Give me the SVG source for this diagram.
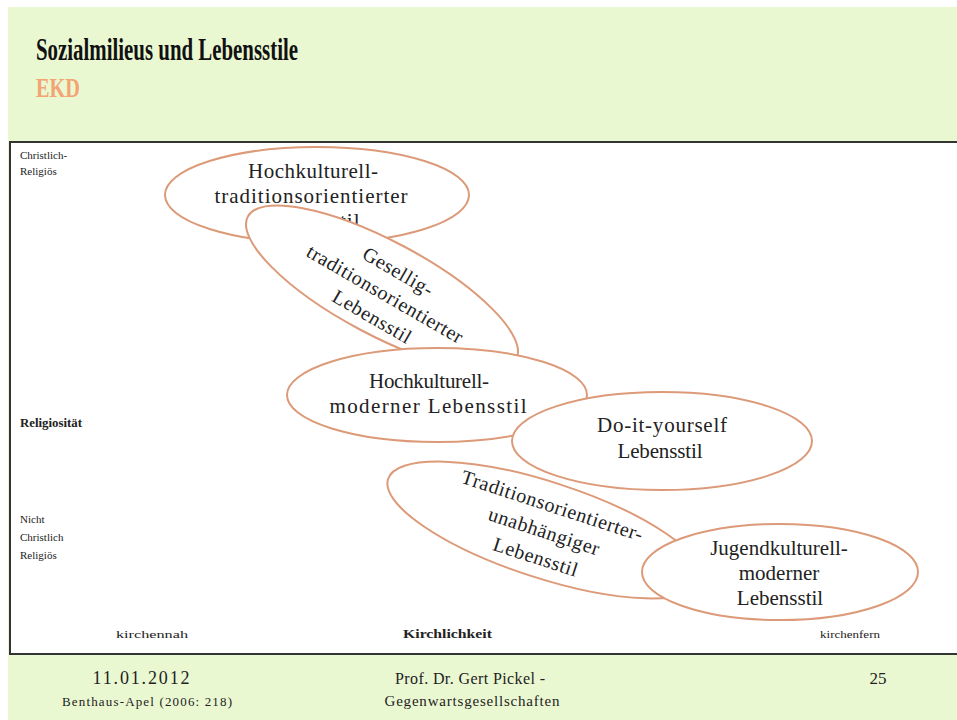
<svg xmlns="http://www.w3.org/2000/svg" width="957" height="720" viewBox="0 0 957 720">
<style>
.ell{fill:#fff;stroke:#dc9a78;stroke-width:2}
.lbl{font-family:"Liberation Serif","DejaVu Serif",serif;font-size:21px;fill:#222;text-anchor:middle}
.lbs{font-family:"Liberation Serif","DejaVu Serif",serif;font-size:20px;fill:#222;text-anchor:middle;letter-spacing:0.6px}
.ax{font-family:"Liberation Serif","DejaVu Serif",serif;font-size:11px;fill:#222}
.axb{font-family:"Liberation Serif","DejaVu Serif",serif;font-size:12px;font-weight:bold;fill:#222}
.ft{font-family:"Liberation Serif","DejaVu Serif",serif;fill:#222;text-anchor:middle}
</style>
<rect x="0" y="0" width="957" height="720" fill="#fff"/>
<rect x="8" y="7" width="949" height="713" fill="#eaf8d2"/>
<g id="title">
<text x="36" y="60" font-family="Liberation Serif,DejaVu Serif,serif" font-size="32" font-weight="bold" fill="#111" textLength="262" lengthAdjust="spacingAndGlyphs">Sozialmilieus  und Lebensstile</text>
<text x="36" y="97" font-family="Liberation Serif,DejaVu Serif,serif" font-size="27" font-weight="bold" fill="#f2a472" textLength="44" lengthAdjust="spacingAndGlyphs">EKD</text>
</g>
<rect x="10" y="142" width="960" height="512" fill="#fff" stroke="#333" stroke-width="2"/>
<g id="axes">
<text class="ax" x="20" y="159">Christlich-</text>
<text class="ax" x="20" y="175">Religiös</text>
<text class="axb" x="20" y="427" textLength="62" lengthAdjust="spacingAndGlyphs">Religiosität</text>
<text class="ax" x="20" y="523">Nicht</text>
<text class="ax" x="20" y="541">Christlich</text>
<text class="ax" x="20" y="559">Religiös</text>
<text class="ax" x="116" y="638" font-size="12" textLength="72" lengthAdjust="spacingAndGlyphs">kirchennah</text>
<text class="axb" x="403" y="638" textLength="89" lengthAdjust="spacingAndGlyphs">Kirchlichkeit</text>
<text class="ax" x="820" y="638" font-size="12" textLength="60" lengthAdjust="spacingAndGlyphs">kirchenfern</text>
</g>
<g id="n1">
<ellipse class="ell" cx="317" cy="195" rx="152" ry="48"/>
<text class="lbl" x="313" y="178" textLength="130">Hochkulturell-</text>
<text class="lbl" x="311" y="203" textLength="193">traditionsorientierter</text>
<text class="lbl" x="312" y="228" textLength="95">Lebensstil</text>
</g>
<g id="n2">
<ellipse class="ell" cx="382" cy="288" rx="152" ry="47" transform="rotate(28 382 288)"/>
<g transform="rotate(30 382 300)">
<text class="lbs" x="382" y="274">Gesellig-</text>
<text class="lbs" x="382" y="300">traditionsorientierter</text>
<text class="lbs" x="382" y="326">Lebensstil</text>
</g>
</g>
<g id="n3">
<ellipse class="ell" cx="437" cy="395" rx="150" ry="47"/>
<text class="lbl" x="429" y="388" textLength="120">Hochkulturell-</text>
<text class="lbl" x="428" y="413" textLength="197">moderner Lebensstil</text>
</g>
<g id="n4">
<ellipse class="ell" cx="662" cy="441" rx="150" ry="49"/>
<text class="lbl" x="662" y="432" textLength="130">Do-it-yourself</text>
<text class="lbl" x="660" y="458" textLength="85">Lebensstil</text>
</g>
<g id="n5">
<ellipse class="ell" cx="545" cy="530" rx="165" ry="48" transform="rotate(18 545 530)"/>
<g transform="rotate(18 544 532)">
<text class="lbs" x="544" y="511" letter-spacing="0.8">Traditionsorientierter-</text>
<text class="lbs" x="544" y="538" letter-spacing="0.8">unabhängiger</text>
<text class="lbs" x="544" y="565" letter-spacing="0.8">Lebensstil</text>
</g>
</g>
<g id="n6">
<ellipse class="ell" cx="780" cy="572" rx="138" ry="48"/>
<text class="lbl" x="779" y="555" font-size="19">Jugendkulturell-</text>
<text class="lbl" x="779" y="580" font-size="19">moderner</text>
<text class="lbl" x="780" y="605" font-size="19">Lebensstil</text>
</g>
<g id="connectors"></g>
<g id="footer">
<text class="ft" x="141" y="684" font-size="18" textLength="97">11.01.2012</text>
<text class="ft" x="147" y="706" font-size="13" textLength="170">Benthaus-Apel (2006: 218)</text>
<text class="ft" x="470" y="684" font-size="16" textLength="150">Prof. Dr. Gert Pickel -</text>
<text class="ft" x="472" y="706" font-size="15" textLength="175">Gegenwartsgesellschaften</text>
<text class="ft" x="878" y="684" font-size="17">25</text>
</g>
</svg>
